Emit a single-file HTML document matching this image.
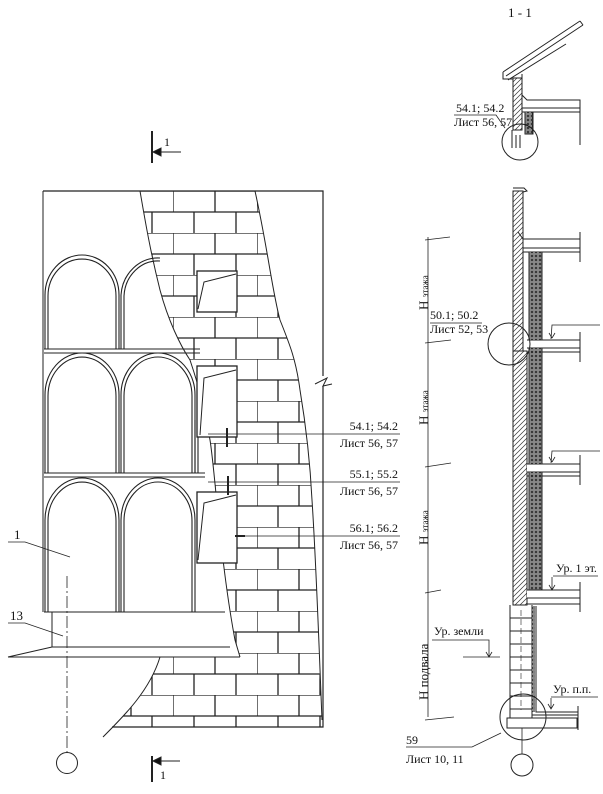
<!DOCTYPE html>
<html><head><meta charset="utf-8"><style>
html,body{margin:0;padding:0;background:#fff;}
svg{display:block;}
text{font-family:"Liberation Serif",serif;fill:#111;stroke:none;}
</style></head><body>
<svg width="603" height="794" viewBox="0 0 603 794" xmlns="http://www.w3.org/2000/svg" stroke="#222" fill="none" stroke-width="1">
<defs>
<pattern id="br" width="84" height="42" patternUnits="userSpaceOnUse" patternTransform="translate(173,191)">
<path d="M0 0H84M0 21H84M0 0V21M42 0V21M21 21V42M63 21V42" stroke="#222" stroke-width="1.3" fill="none"/>
</pattern>
<pattern id="hat" width="5" height="5" patternUnits="userSpaceOnUse">
<path d="M-1 6L6 -1M-1 1L1 -1M4 6L6 4" stroke="#333" stroke-width="0.7"/>
</pattern>
<pattern id="cx" width="4" height="4" patternUnits="userSpaceOnUse">
<rect width="4" height="4" fill="#fff"/>
<path d="M0 0L4 4M4 0L0 4" stroke="#444" stroke-width="0.6"/>
</pattern>
<clipPath id="bc">
<path d="M140 191 C145 220,150 250,160 290 C168 320,180 345,190 360 C200 390,205 410,210 440 C215 470,220 560,235 640 L240 657 L160 657 C150 690,125 715,112 727 L322 727 L320 680 C318 620,316 560,312 500 C310 460,305 420,300 390 C296 360,290 345,280 320 C272 290,268 250,255 191 Z"/>
</clipPath>
</defs>

<path d="M43 191H323V376 M323 386V727H112" stroke-width="1.2"/>
<path d="M315 384L327 378L323 386L332 384" />
<path d="M43 191V612"/>
<g stroke-width="1.1">
<path d="M44 349H200M44 353H200M44 473H205M44 477H205M44 612H225"/>
<path d="M45 349V295A37 40 0 0 1 119 295V349M48 349V296A34 37 0 0 1 116 296V349"/>
<path d="M121 349V295A37 40 0 0 1 160 258M124 349V296A34 37 0 0 1 160 261"/>
<path d="M45 473V395A37 42 0 0 1 119 395V473M48 473V396A34 39 0 0 1 116 396V473"/>
<path d="M121 473V395A37 42 0 0 1 195 395V473M124 473V396A34 39 0 0 1 192 396V473"/>
<path d="M45 612V520A37 42 0 0 1 119 520V612M48 612V521A34 39 0 0 1 116 521V612"/>
<path d="M121 612V520A37 42 0 0 1 195 520V612M124 612V521A34 39 0 0 1 192 521V612"/>
<path d="M195 420V473M198 420V473"/>
</g>
<path d="M52 612V647H230M8 657H240M8 657L52 647"/>
<rect x="100" y="191" width="230" height="540" fill="url(#br)" clip-path="url(#bc)" stroke="none"/>
<path d="M140 191 C145 220,150 250,160 290 C168 320,180 345,190 360 C200 390,205 410,210 440 C215 470,220 560,235 640 L240 657" stroke-width="1"/>
<path d="M160 657 C150 690,125 715,103 737" />
<path d="M255 191 C268 250,272 290,280 320 C290 345,296 360,300 390 C305 420,310 460,312 500 C316 560,318 620,322 720"/>
<rect x="197" y="271" width="40" height="41" fill="#fff" stroke-width="1.3"/>
<path d="M198 309L204 282L236 274" />
<rect x="197" y="366" width="40" height="71" fill="#fff" stroke-width="1.3"/>
<path d="M200 435L204 378L236 370"/>
<rect x="197" y="492" width="40" height="71" fill="#fff" stroke-width="1.3"/>
<path d="M198 560L204 503L236 495"/>
<path d="M208 434H400M208 482H400M237 536H400" stroke-width="0.8"/>
<path d="M227 428V447M228 476V495M235 536H245" stroke-width="2"/>
<g font-size="12" text-anchor="end">
<text x="398" y="430">54.1; 54.2</text><text x="398" y="447">Лист 56, 57</text>
<text x="398" y="478">55.1; 55.2</text><text x="398" y="495">Лист 56, 57</text>
<text x="398" y="532">56.1; 56.2</text><text x="398" y="549">Лист 56, 57</text>
</g>
<text x="14" y="539" font-size="13">1</text>
<path d="M8 542H25L70 557" stroke-width="0.8"/>
<text x="10" y="620" font-size="13">13</text>
<path d="M8 623H25L63 636" stroke-width="0.8"/>
<path d="M67 576V752" stroke-dasharray="12 3 2 3" stroke-width="0.8"/>
<circle cx="67" cy="763" r="10.5"/>
<path d="M152 131V163M152 756V782" stroke-width="2"/>
<path d="M154 152H181M154 761H180" />
<path d="M153 152L161 148V156Z M153 761L161 757V765Z" fill="#111"/>
<text x="164" y="146" font-size="12">1</text>
<text x="160" y="779" font-size="12">1</text>

<text x="508" y="17" font-size="13">1 - 1</text>
<path d="M503 72L580 21M506 76L583 25M508 80L566 44M503 72V79H513" />
<path d="M580 21L583 25"/>
<path d="M513 78V130H522V74" />
<rect x="513" y="78" width="9" height="52" fill="url(#hat)"/>
<path d="M522 95L527 100H580V108H522M522 112H580M580 100V145"/>
<rect x="525" y="112" width="8" height="22" fill="url(#cx)"/>
<path d="M512 130V148M516 135V148M520 135V148"/>
<circle cx="520" cy="142" r="18"/>
<g font-size="12"><text x="456" y="112">54.1; 54.2</text><text x="454" y="126">Лист 56, 57</text></g>
<path d="M454 115H496L505 128" stroke-width="0.8"/>

<rect x="513" y="191" width="10" height="160" fill="url(#hat)"/>
<rect x="513" y="351" width="14" height="254" fill="url(#hat)"/>
<path d="M513 191V605M513 188L524 188L527 191L523 192V239"/>
<path d="M523 248V351M527 351V605"/>
<rect x="529" y="252" width="13" height="343" fill="url(#cx)" stroke="#222"/>
<path d="M523 239H580V248H523M523 252H580M580 232V262M518 232L523 239"/>
<path d="M527 340H580V348H527M527 352H580M580 332V362" fill="#fff"/>
<path d="M527 464H580V472H527M527 476H580M580 455V485" fill="#fff"/>
<path d="M527 590H580V598H527M527 604H580M580 582V612" fill="#fff"/>
<path d="M551 339L552 325H600 M551 463L552 451H600" stroke-width="0.8"/>
<path d="M552 338L549 333M552 338L555 333M552 462L549 457M552 462L555 457" stroke-width="0.8"/>
<circle cx="509" cy="344" r="21"/>
<g font-size="12"><text x="430" y="319">50.1; 50.2</text><text x="430" y="333">Лист 52, 53</text></g>
<path d="M430 323H482" stroke-width="0.8"/>
<path d="M510 605V718M532 605V718M510 618H532M510 631H532M510 644H532M510 657H532M510 670H532M510 683H532M510 696H532M510 709H532"/>
<path d="M521 610V710" stroke-dasharray="6 3" stroke-width="0.6"/>
<path d="M532 606V715M536 606V712H578M532 715H578"/>
<rect x="532" y="606" width="3" height="106" fill="url(#cx)" stroke="none"/>
<rect x="507" y="718" width="70" height="10"/>
<path d="M578 706V730"/>
<circle cx="523" cy="717" r="23"/>
<path d="M522 728V754" stroke-width="0.8"/>
<circle cx="522" cy="765" r="11"/>
<g font-size="12">
<text x="556" y="572">Ур. 1 эт.</text>
<text x="434" y="635">Ур. земли</text>
<text x="553" y="693">Ур. п.п.</text>
<text x="406" y="744">59</text><text x="406" y="763">Лист 10, 11</text>
</g>
<path d="M553 576H598M552 577V590M549 585L552 590L555 585" stroke-width="0.8"/>
<path d="M432 640H489V657M486 652L489 657L492 652M463 657H500" stroke-width="0.8"/>
<path d="M551 697H598M551 698V709M548 704L551 709L554 704" stroke-width="0.8"/>
<path d="M406 747H472L501 733" stroke-width="0.8"/>
<path d="M428 237V717" stroke-width="0.8"/>
<path d="M425 240L450 237M425 343L451 340M425 467L451 463M425 593L441 590M425 720L454 717" stroke-width="0.8"/>
<g font-size="13">
<text transform="translate(428,310) rotate(-90)">H <tspan font-size="9">этажа</tspan></text>
<text transform="translate(428,425) rotate(-90)">H <tspan font-size="9">этажа</tspan></text>
<text transform="translate(428,545) rotate(-90)">H <tspan font-size="9">этажа</tspan></text>
<text transform="translate(428,700) rotate(-90)">H подвала</text>
</g>
</svg>
</body></html>
